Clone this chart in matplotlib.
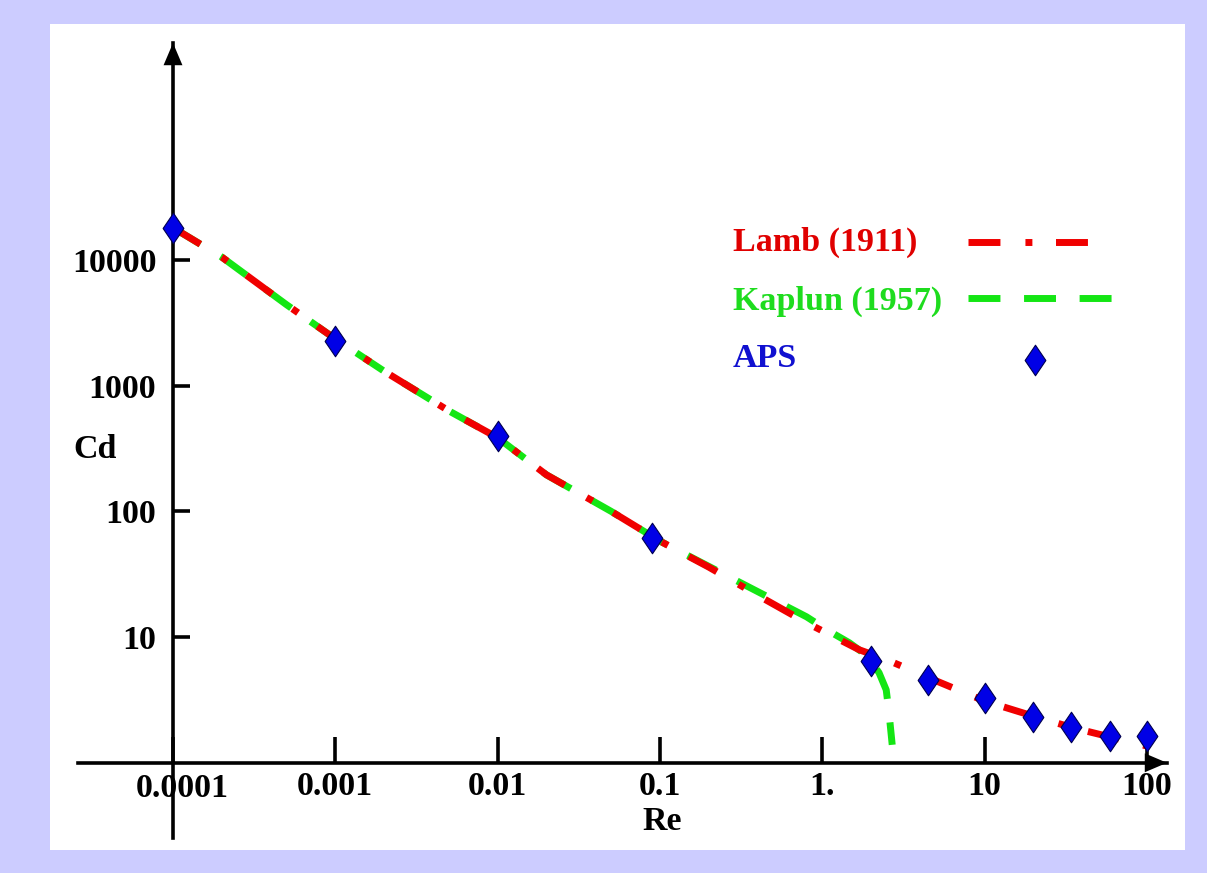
import matplotlib
matplotlib.use("Agg")
import matplotlib.pyplot as plt
from matplotlib.patches import Rectangle
from matplotlib.path import Path
from matplotlib.lines import Line2D

plt.rcParams['font.family'] = ['Liberation Serif', 'DejaVu Serif']
plt.rcParams['font.weight'] = 'bold'
plt.rcParams['lines.scale_dashes'] = False

# ---- data ----
lamb_re = [1e-4, 2e-4, 5e-4, 1e-3, 2e-3, 5e-3, 1e-2, 2e-2, 5e-2, 0.1, 0.2, 0.4, 0.8, 1.7, 2.5, 5, 10, 20, 35, 60, 100]
lamb_cd = [18000, 10500, 4400, 2350, 1300, 630, 385, 195, 100, 58, 36, 21.5, 13, 7.9, 6.6, 4.5, 3.1, 2.35, 1.9, 1.6, 1.36]

kaplun_re = [1e-4, 2e-4, 5e-4, 1e-3, 2e-3, 5e-3, 1e-2, 2e-2, 5e-2, 0.1, 0.2, 0.4, 0.8, 1.07, 1.47, 1.89, 2.24, 2.48, 2.58, 2.70]
kaplun_cd = [18000, 10500, 4400, 2350, 1300, 630, 385, 195, 100, 58, 36.5, 23, 14.5, 11.4, 9.0, 7.1, 5.2, 3.8, 2.5, 1.39]

aps_re = [1e-4, 1e-3, 1e-2, 0.09, 2.0, 4.5, 10, 20, 34, 59, 100]
aps_cd = [18000, 2280, 400, 61, 6.5, 4.55, 3.25, 2.32, 1.93, 1.64, 1.64]

xticks = [1e-4, 1e-3, 1e-2, 0.1, 1, 10, 100]
xticklabels = ['', '0.001', '0.01', '0.1', '1.', '10', '100']
yticks = [10, 100, 1000, 10000]
yticklabels = ['10', '100', '1000', '10000']

series_names = ['Lamb (1911)', 'Kaplun (1957)', 'APS']

RED = '#f00000'
GREEN = '#14e614'
BLUE = '#0000e6'
TEXT_COLORS = ['#e00000', '#1edc1e', '#1010d0']

W, H = 1207, 873
fig = plt.figure(figsize=(W / 100, H / 100), dpi=100)
fig.patch.set_facecolor('#ccccff')
fig.patches.append(Rectangle((50 / W, (H - 850) / H), (1185 - 50) / W, (850 - 24) / H,
                             transform=fig.transFigure, facecolor='white', edgecolor='none', zorder=-10))

L, R, T, B = 78, 1167, 43, 838
ax = fig.add_axes([L / W, (H - B) / H, (R - L) / W, (B - T) / H])
ax.set_facecolor('none')
ax.set_xscale('log')
ax.set_yscale('log')
# pixel mapping: x = 173 + 162.3*(log10 Re + 4);  y = 762.8 - 125.75*log10 Cd
ax.set_xlim(10 ** (-4 + (L - 173) / 162.3), 10 ** (-4 + (R - 173) / 162.3))
ax.set_ylim(10 ** ((762.8 - B) / 125.75), 10 ** ((762.8 - T) / 125.75))

fs = 24.5
lw = 5
red_ls = (0, (23, 18, 5, 17))
green_ls = (0, (23, 17))
diamond = Path([(0, 1), (0.68, 0), (0, -1), (-0.68, 0), (0, 1)],
               [Path.MOVETO, Path.LINETO, Path.LINETO, Path.LINETO, Path.CLOSEPOLY])
dia_kw = dict(linestyle='none', marker=diamond, markersize=22, markerfacecolor=BLUE,
              markeredgecolor='#000050', markeredgewidth=0.8, color=BLUE)

ax.plot(kaplun_re, kaplun_cd, color=GREEN, lw=lw, linestyle=green_ls,
        dash_capstyle='butt', zorder=3)
ax.plot(lamb_re, lamb_cd, color=RED, lw=lw, linestyle=red_ls,
        dash_capstyle='butt', zorder=4)
ax.plot(aps_re, aps_cd, zorder=5, clip_on=False, **dia_kw)

# axes through the origin
for s in ['top', 'right']:
    ax.spines[s].set_visible(False)
ax.spines['left'].set_position(('data', 1e-4))
ax.spines['bottom'].set_position(('data', 1))
for s in ['left', 'bottom']:
    ax.spines[s].set_linewidth(2.6)
    ax.spines[s].set_zorder(2)

ax.minorticks_off()
ax.set_xticks(xticks, xticklabels)
ax.set_yticks(yticks, yticklabels)
ax.tick_params(axis='x', direction='in', length=18.5, width=2.6, pad=6, labelsize=fs)
ax.tick_params(axis='y', direction='in', length=12.5, width=2.6, pad=12, labelsize=fs)
ax.minorticks_off()

ax.annotate('0.0001', xy=(1e-4, 1), xycoords='data', xytext=(7, -7), textcoords='offset points',
            ha='center', va='top', fontsize=fs, fontweight='bold')

# arrowheads
aprops = dict(arrowstyle='-|>,head_length=0.8,head_width=0.34', mutation_scale=20,
              color='black', lw=0, shrinkA=0, shrinkB=0)
ax.annotate('', xy=(1e-4, 1.0), xycoords=ax.get_xaxis_transform(),
            xytext=(1e-4, 0.95), textcoords=ax.get_xaxis_transform(), arrowprops=aprops)
ax.annotate('', xy=(1.0, 1), xycoords=ax.get_yaxis_transform(),
            xytext=(0.95, 1), textcoords=ax.get_yaxis_transform(), arrowprops=aprops)

# axis labels
ax.annotate('Re', xy=(0.1, 1), xycoords='data', xytext=(2, -42), textcoords='offset points',
            ha='center', va='center', fontsize=fs, fontweight='bold')
ax.annotate('Cd', xy=(1e-4, 310), xycoords='data', xytext=(-56, 0), textcoords='offset points',
            ha='center', va='center', fontsize=fs, fontweight='bold')

# legend (texts left-aligned, samples on the right)
def fx(px):
    return px / W

def fy(py):
    return 1 - py / H

baselines = [251, 310, 367]
for name, col, yb in zip(series_names, TEXT_COLORS, baselines):
    fig.text(fx(733), fy(yb), name, color=col, fontsize=fs, fontweight='bold',
             ha='left', va='baseline')
fig.add_artist(Line2D([fx(968), fx(1088)], [fy(241.5), fy(241.5)], color=RED, lw=lw,
                      linestyle=red_ls, dash_capstyle='butt', transform=fig.transFigure))
fig.add_artist(Line2D([fx(968), fx(1112)], [fy(298.3), fy(298.3)], color=GREEN, lw=lw,
                      linestyle=green_ls, dash_capstyle='butt', transform=fig.transFigure))
fig.add_artist(Line2D([fx(1035)], [fy(360)], transform=fig.transFigure, **dia_kw))

fig.savefig('out.png', dpi=100, facecolor=fig.get_facecolor())
